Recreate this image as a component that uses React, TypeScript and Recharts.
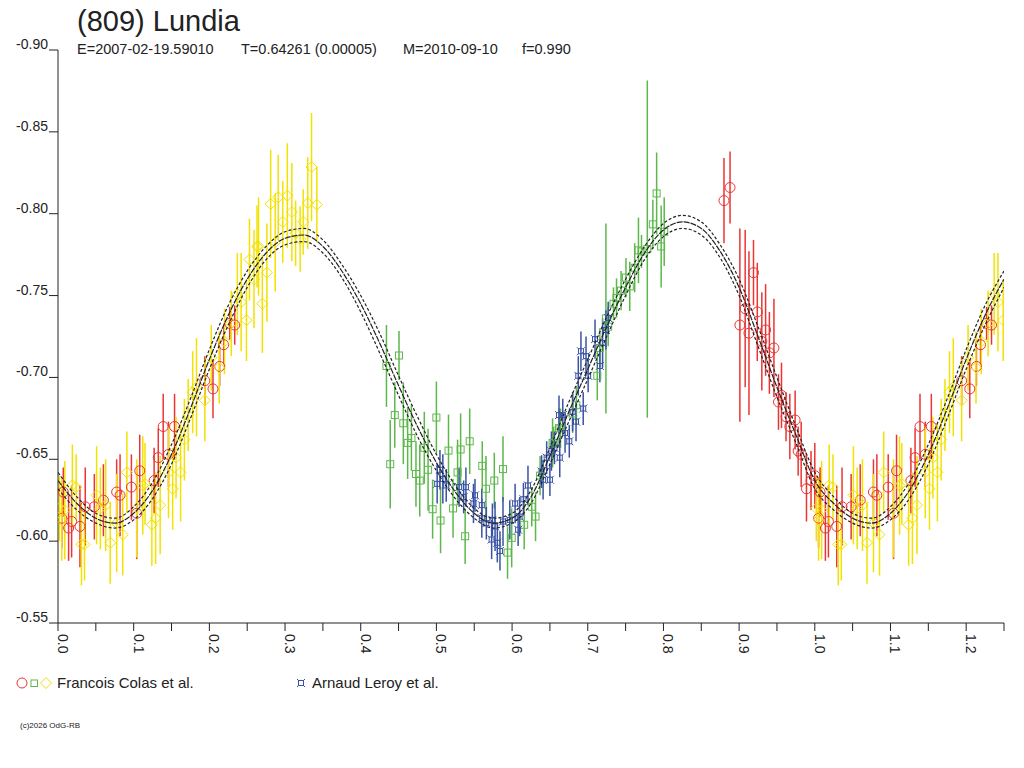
import React from "react"
import { ScatterChart, Scatter, XAxis, YAxis, ErrorBar } from "recharts"

// phase, reduced magnitude, error
const COLAS_RED: [number, number, number][] = [
  [0.005, -0.614, 0.018], [0.007, -0.63, 0.015], [0.014, -0.608, 0.02], [0.018, -0.612, 0.022],
  [0.029, -0.609, 0.025], [0.036, -0.621, 0.024], [0.048, -0.621, 0.02], [0.06, -0.625, 0.022],
  [0.0775, -0.63, 0.02], [0.082, -0.628, 0.025], [0.097, -0.633, 0.02], [0.104, -0.617, 0.028],
  [0.108, -0.643, 0.022], [0.127, -0.637, 0.02], [0.1325, -0.651, 0.018], [0.139, -0.67, 0.02],
  [0.146, -0.653, 0.02], [0.154, -0.67, 0.02], [0.194, -0.698, 0.015], [0.2048, -0.693, 0.018],
  [0.2136, -0.7067, 0.012], [0.219, -0.72, 0.012], [0.227, -0.733, 0.01], [0.2335, -0.732, 0.012],
  [0.88, -0.808, 0.026], [0.888, -0.816, 0.022], [0.901, -0.732, 0.059], [0.908, -0.742, 0.048],
  [0.913, -0.727, 0.05], [0.919, -0.764, 0.02], [0.924, -0.74, 0.03], [0.93, -0.722, 0.03],
  [0.935, -0.729, 0.028], [0.94, -0.715, 0.025], [0.946, -0.718, 0.03], [0.952, -0.685, 0.017],
  [0.956, -0.689, 0.02], [0.962, -0.676, 0.015], [0.967, -0.67, 0.02], [0.974, -0.674, 0.018],
  [0.978, -0.655, 0.015], [0.982, -0.653, 0.02], [0.989, -0.632, 0.02], [0.995, -0.637, 0.018],
  [1.0, -0.64, 0.02],
]

const COLAS_YELLOW: [number, number, number][] = [
  [0.002, -0.62, 0.02], [0.005, -0.613, 0.025], [0.009, -0.619, 0.03], [0.019, -0.634, 0.025],
  [0.024, -0.633, 0.02], [0.031, -0.598, 0.025], [0.035, -0.598, 0.022], [0.051, -0.628, 0.03],
  [0.056, -0.62, 0.025], [0.063, -0.622, 0.028], [0.069, -0.599, 0.025], [0.0775, -0.611, 0.03],
  [0.0855, -0.604, 0.025], [0.091, -0.642, 0.025], [0.104, -0.62, 0.03], [0.112, -0.634, 0.03],
  [0.115, -0.635, 0.025], [0.124, -0.61, 0.025], [0.129, -0.614, 0.028], [0.135, -0.622, 0.03],
  [0.146, -0.642, 0.028], [0.1515, -0.632, 0.025], [0.156, -0.651, 0.025], [0.162, -0.642, 0.03],
  [0.167, -0.662, 0.025], [0.172, -0.677, 0.022], [0.178, -0.691, 0.025], [0.183, -0.694, 0.03],
  [0.194, -0.686, 0.025], [0.2025, -0.712, 0.02], [0.213, -0.706, 0.022], [0.22, -0.722, 0.02],
  [0.229, -0.733, 0.02], [0.237, -0.751, 0.025], [0.242, -0.746, 0.03], [0.249, -0.735, 0.025],
  [0.253, -0.772, 0.025], [0.259, -0.76, 0.03], [0.263, -0.78, 0.025], [0.265, -0.78, 0.03],
  [0.27, -0.745, 0.03], [0.276, -0.764, 0.03], [0.281, -0.806, 0.033], [0.287, -0.7825, 0.03],
  [0.291, -0.81, 0.026], [0.297, -0.795, 0.025], [0.303, -0.811, 0.032], [0.309, -0.801, 0.03],
  [0.314, -0.788, 0.02], [0.32, -0.7845, 0.02], [0.324, -0.795, 0.02], [0.33, -0.8065, 0.028],
  [0.335, -0.8285, 0.033], [0.342, -0.8055, 0.023],
]

const COLAS_GREEN: [number, number, number][] = [
  [0.434, -0.707, 0.025], [0.4506, -0.7134, 0.015], [0.439, -0.647, 0.027], [0.445, -0.677, 0.02],
  [0.4563, -0.672, 0.025], [0.462, -0.66, 0.022], [0.467, -0.663, 0.02], [0.473, -0.641, 0.02],
  [0.478, -0.637, 0.022], [0.484, -0.657, 0.022], [0.489, -0.6436, 0.025], [0.495, -0.6195, 0.018],
  [0.5, -0.6755, 0.022], [0.5055, -0.6126, 0.02], [0.516, -0.6553, 0.022], [0.522, -0.62, 0.018],
  [0.528, -0.642, 0.02], [0.532, -0.656, 0.022], [0.538, -0.603, 0.017], [0.544, -0.661, 0.02],
  [0.5606, -0.646, 0.015], [0.5655, -0.632, 0.02], [0.5765, -0.637, 0.017], [0.588, -0.644, 0.02],
  [0.594, -0.593, 0.016], [0.5995, -0.602, 0.018], [0.616, -0.61, 0.015], [0.626, -0.621, 0.012],
  [0.631, -0.615, 0.015], [0.637, -0.64, 0.012], [0.6535, -0.66, 0.015], [0.662, -0.669, 0.012],
  [0.655, -0.66, 0.01], [0.664, -0.669, 0.012], [0.68, -0.678, 0.012], [0.685, -0.683, 0.012],
  [0.7126, -0.701, 0.015], [0.716, -0.718, 0.012], [0.724, -0.736, 0.058], [0.727, -0.731, 0.012],
  [0.734, -0.745, 0.01], [0.738, -0.7485, 0.012], [0.744, -0.753, 0.012], [0.7505, -0.761, 0.012],
  [0.7555, -0.7556, 0.015], [0.762, -0.767, 0.015], [0.767, -0.7776, 0.02], [0.771, -0.777, 0.01],
  [0.7787, -0.7784, 0.103], [0.786, -0.7935, 0.015], [0.791, -0.8124, 0.025], [0.797, -0.78, 0.025],
  [0.801, -0.789, 0.021],
]

const LEROY_BLUE: [number, number, number][] = [
  [0.501, -0.635, 0.012], [0.5047, -0.6436, 0.012], [0.5085, -0.638, 0.015], [0.513, -0.634, 0.01],
  [0.53, -0.633, 0.012], [0.536, -0.627, 0.01], [0.539, -0.633, 0.012], [0.549, -0.623, 0.012],
  [0.551, -0.628, 0.01], [0.56, -0.622, 0.01], [0.56, -0.614, 0.012], [0.566, -0.611, 0.01],
  [0.573, -0.601, 0.012], [0.574, -0.613, 0.01], [0.5775, -0.609, 0.015], [0.5805, -0.599, 0.012],
  [0.584, -0.594, 0.012], [0.588, -0.612, 0.015], [0.597, -0.613, 0.012], [0.604, -0.623, 0.012],
  [0.608, -0.607, 0.01], [0.61, -0.615, 0.012], [0.615, -0.6256, 0.01], [0.621, -0.634, 0.012],
  [0.639, -0.6425, 0.01], [0.641, -0.6375, 0.012], [0.6457, -0.651, 0.01], [0.65, -0.6375, 0.01],
  [0.652, -0.655, 0.012], [0.656, -0.657, 0.01], [0.662, -0.677, 0.012], [0.663, -0.651, 0.012],
  [0.667, -0.677, 0.01], [0.67, -0.666, 0.012], [0.6756, -0.661, 0.01], [0.68, -0.679, 0.012],
  [0.6845, -0.673, 0.012], [0.6875, -0.701, 0.012], [0.691, -0.716, 0.012], [0.694, -0.681, 0.01],
  [0.6977, -0.713, 0.012], [0.7005, -0.701, 0.01], [0.7096, -0.7234, 0.012], [0.716, -0.707, 0.01],
  [0.7196, -0.721, 0.015], [0.724, -0.729, 0.012], [0.727, -0.7363, 0.01],
]

// fitted curve and its envelope
const FIT_PHASE = [
  0, 0.025, 0.05, 0.075, 0.1, 0.125, 0.15, 0.175, 0.2, 0.225, 0.25, 0.275, 0.3, 0.325,
  0.35, 0.375, 0.4, 0.425, 0.45, 0.475, 0.5, 0.525, 0.55, 0.575, 0.6, 0.625, 0.65, 0.675,
  0.7, 0.725, 0.75, 0.775, 0.8, 0.825, 0.85, 0.875, 0.9, 0.925, 0.95, 0.975, 1.0,
]
const FIT_MID = [
  -0.637, -0.623, -0.614, -0.611, -0.617, -0.631, -0.653, -0.681, -0.711, -0.738, -0.76, -0.776, -0.785, -0.787,
  -0.78, -0.765, -0.745, -0.721, -0.695, -0.67, -0.648, -0.63, -0.617, -0.611, -0.614, -0.627, -0.652, -0.679,
  -0.705, -0.731, -0.755, -0.776, -0.79, -0.795, -0.791, -0.777, -0.755, -0.725, -0.694, -0.665, -0.637,
]
const FIT_HI = [
  -0.642, -0.627, -0.617, -0.614, -0.621, -0.636, -0.659, -0.687, -0.717, -0.744, -0.765, -0.78, -0.789, -0.791,
  -0.784, -0.769, -0.75, -0.727, -0.701, -0.676, -0.653, -0.634, -0.62, -0.614, -0.617, -0.631, -0.657, -0.685,
  -0.711, -0.737, -0.76, -0.78, -0.794, -0.799, -0.795, -0.781, -0.76, -0.731, -0.7, -0.67, -0.642,
]
const FIT_LO = [
  -0.632, -0.619, -0.611, -0.608, -0.613, -0.626, -0.647, -0.675, -0.705, -0.732, -0.755, -0.772, -0.781, -0.783,
  -0.776, -0.761, -0.74, -0.715, -0.689, -0.664, -0.643, -0.626, -0.614, -0.608, -0.611, -0.623, -0.647, -0.673,
  -0.699, -0.725, -0.75, -0.772, -0.786, -0.791, -0.787, -0.773, -0.75, -0.719, -0.688, -0.66, -0.632,
]

const X_TICKS = [
  0, 0.05, 0.1, 0.15, 0.2, 0.25, 0.3, 0.35, 0.4, 0.45, 0.5, 0.55, 0.6, 0.65,
  0.7, 0.75, 0.8, 0.85, 0.9, 0.95, 1.0, 1.05, 1.1, 1.15, 1.2, 1.25,
]
const Y_TICKS = [-0.9, -0.85, -0.8, -0.75, -0.7, -0.65, -0.6, -0.55]

const FONT = "'Liberation Sans', Arial, sans-serif"
const INK = "#222"
const RED = "#ec3434"
const GREEN = "#5cb84a"
const YELLOW = "#f2e200"
const BLUE = "#3a52a6"

// phases below 0.25 are shown a second time after 1.0
function expand(rows: [number, number, number][]) {
  const out: { x: number; y: number; e: number }[] = []
  for (const [x, y, e] of rows) {
    out.push({ x, y, e })
    if (x < 0.25) out.push({ x: x + 1, y, e })
  }
  return out
}

function fitLine(vals: number[]) {
  const pts = FIT_PHASE.map((x, i) => ({ x, y: vals[i] }))
  FIT_PHASE.forEach((x, i) => {
    if (x > 0 && x <= 0.25) pts.push({ x: x + 1, y: vals[i] })
  })
  return pts
}

const Circle = (p: any) => <circle cx={p.cx} cy={p.cy} r={5} fill="none" stroke={RED} strokeWidth={1} />
const Square = (p: any) => (
  <rect x={p.cx - 3.5} y={p.cy - 3.5} width={7} height={7} fill="none" stroke={GREEN} strokeWidth={1} />
)
const Diamond = (p: any) => (
  <path
    d={`M${p.cx - 5.5},${p.cy}L${p.cx},${p.cy - 5.5}L${p.cx + 5.5},${p.cy}L${p.cx},${p.cy + 5.5}Z`}
    fill="none"
    stroke={YELLOW}
    strokeWidth={1}
  />
)
const Cross = (p: any) => {
  const { cx, cy } = p
  return (
    <g stroke={BLUE} strokeWidth={1} fill="none">
      <rect x={cx - 2.5} y={cy - 2.5} width={5} height={5} />
      <path
        d={`M${cx - 2.5},${cy - 2.5}l-1.5,-1.5M${cx + 2.5},${cy - 2.5}l1.5,-1.5M${cx - 2.5},${cy + 2.5}l-1.5,1.5M${cx + 2.5},${cy + 2.5}l1.5,1.5`}
      />
    </g>
  )
}
const NoDot = () => <g />

function YTick(props: any) {
  const { y, payload } = props
  return (
    <text x={48} y={y - 1} textAnchor="end" fontSize={14} fontFamily={FONT} fill={INK}>
      {payload.value.toFixed(2)}
    </text>
  )
}

function XTick(props: any) {
  const { x, payload } = props
  const v = payload.value
  if (Math.abs(v * 10 - Math.round(v * 10)) > 1e-6) return <g />
  return (
    <text
      x={x}
      y={634}
      transform={`rotate(90, ${x}, 634)`}
      fontSize={14}
      fontFamily={FONT}
      fill={INK}
    >
      {v.toFixed(1)}
    </text>
  )
}

export default function App() {
  const series = [
    { key: "red", data: expand(COLAS_RED), color: RED, shape: Circle },
    { key: "yellow", data: expand(COLAS_YELLOW), color: YELLOW, shape: Diamond },
    { key: "green", data: expand(COLAS_GREEN), color: GREEN, shape: Square },
    { key: "blue", data: expand(LEROY_BLUE), color: BLUE, shape: Cross },
  ]
  const fits = [
    { key: "hi", data: fitLine(FIT_HI), dash: "3 2" },
    { key: "mid", data: fitLine(FIT_MID), dash: "6 1" },
    { key: "lo", data: fitLine(FIT_LO), dash: "3 2" },
  ]

  return (
    <div style={{ position: "absolute", left: 0, top: 0, width: 1024, height: 768, background: "#fff" }}>
      <ScatterChart width={1024} height={768} margin={{ top: 50, right: 20, bottom: 0, left: 0 }}>
        <XAxis
          type="number"
          dataKey="x"
          domain={[0, 1.25]}
          ticks={X_TICKS}
          interval={0}
          height={145}
          tickSize={8}
          stroke={INK}
          tick={XTick}
          allowDataOverflow
        />
        <YAxis
          type="number"
          dataKey="y"
          domain={[-0.9, -0.55]}
          ticks={Y_TICKS}
          interval={0}
          reversed
          width={58}
          tickSize={9}
          stroke={INK}
          tick={YTick}
          allowDataOverflow
        />
        {series.map((s) => (
          <Scatter key={s.key} data={s.data} shape={s.shape} isAnimationActive={false}>
            <ErrorBar dataKey="e" direction="y" width={0} stroke={s.color} strokeWidth={1.5} />
          </Scatter>
        ))}
        {fits.map((f) => (
          <Scatter
            key={f.key}
            data={f.data}
            shape={NoDot}
            line={{ stroke: INK, strokeWidth: 1.2, strokeDasharray: f.dash, fill: "none" }}
            lineJointType="monotoneX"
            isAnimationActive={false}
          />
        ))}
      </ScatterChart>

      <svg
        width={1024}
        height={768}
        style={{ position: "absolute", left: 0, top: 0, pointerEvents: "none" }}
        fontFamily={FONT}
        fill={INK}
      >
        <text x={77} y={31} fontSize={29}>(809) Lundia</text>
        <text x={77} y={54} fontSize={14.5}>E=2007-02-19.59010</text>
        <text x={241} y={54} fontSize={14.5}>T=0.64261 (0.00005)</text>
        <text x={403} y={54} fontSize={14.5}>M=2010-09-10</text>
        <text x={522} y={54} fontSize={14.5}>f=0.990</text>

        <circle cx={22} cy={683} r={5} fill="none" stroke={RED} />
        <rect x={31} y={680} width={6.5} height={6.5} fill="none" stroke={GREEN} />
        <path d="M40.5,683L46,677.5L51.5,683L46,688.5Z" fill="none" stroke={YELLOW} />
        <text x={57} y={688} fontSize={15}>Francois Colas et al.</text>
        <Cross cx={301} cy={683} />
        <text x={312} y={688} fontSize={15}>Arnaud Leroy et al.</text>

        <text x={20} y={728} fontSize={8}>(c)2026 OdG-RB</text>
      </svg>
    </div>
  )
}
